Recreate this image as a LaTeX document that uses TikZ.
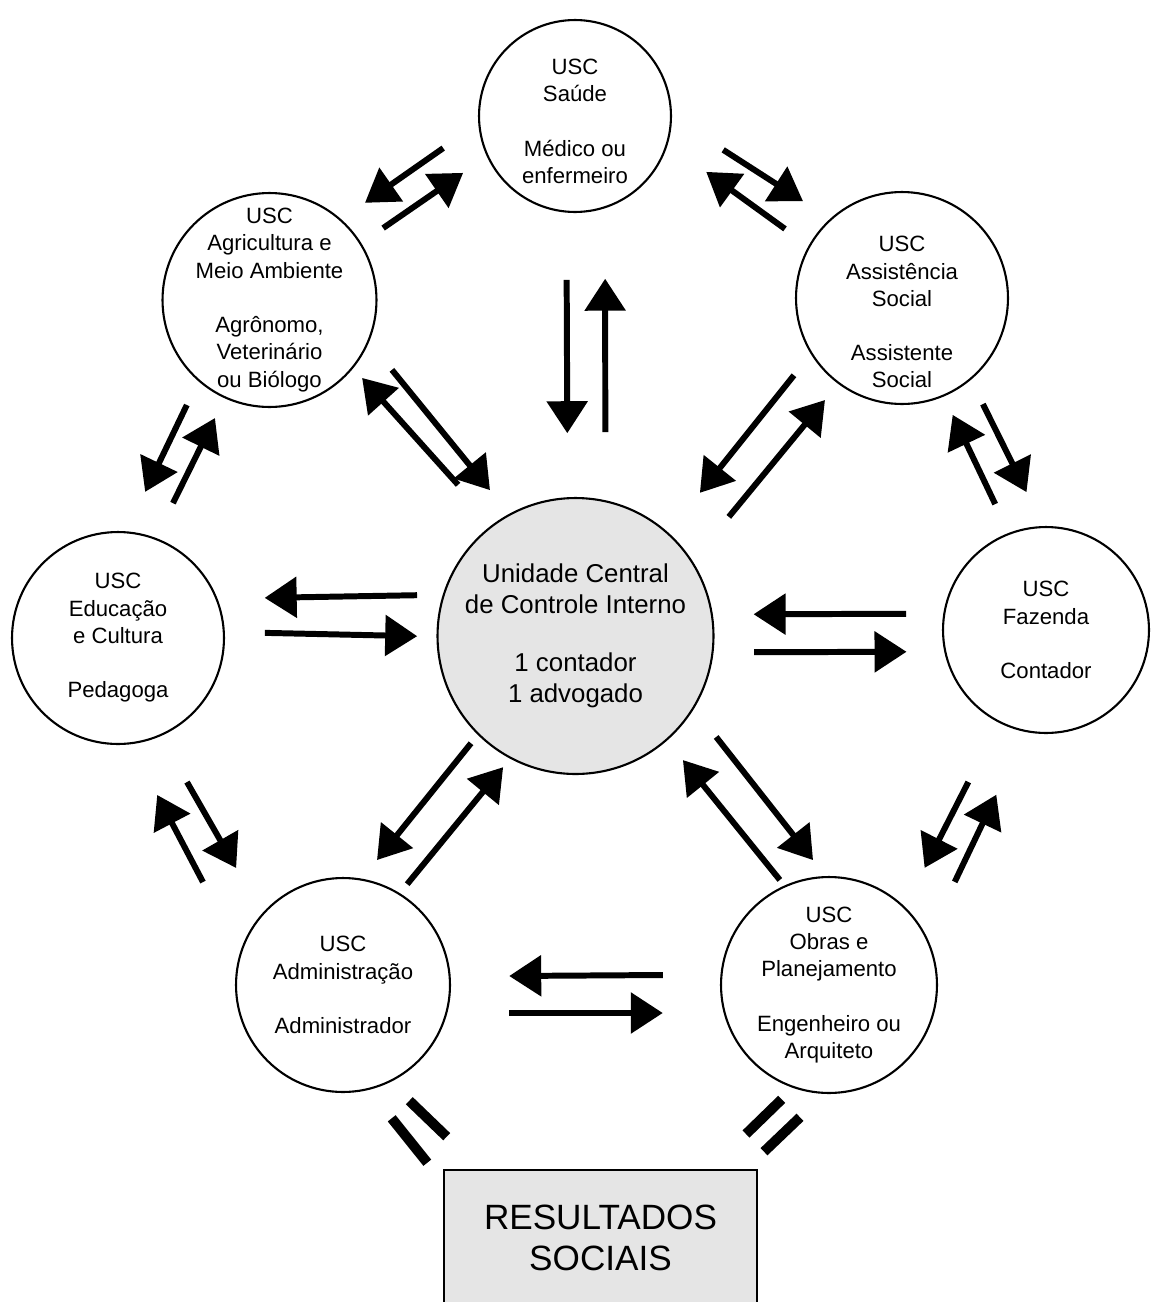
\documentclass[tikz,border=0pt]{standalone}
\usepackage{fontspec}
\setmainfont{Liberation Sans}
\usetikzlibrary{arrows.meta,calc}
\begin{document}
\begin{tikzpicture}[x=0.02cm,y=-0.02cm,
	usc/.style={draw,circle,line width=1.2pt,inner sep=-1cm,align=center,font=\fontsize{12.6}{15.5}\selectfont},
	flow/.style={-{Triangle[length=0.64cm,width=0.8cm]},line width=3.4pt},
	bar/.style={line width=5.7pt}]
	\clip (0,0) rectangle (1150,1302);
	% unidades setoriais
	\node [usc,minimum size=3.84cm] (sau) at (575,116) {\rule{0pt}{15pt}USC\\Saúde\\[15.5pt]Médico ou\\enfermeiro};
	\node [usc,minimum size=4.28cm] (agr) at (269.5,300) {USC\\Agricultura e\\Meio Ambiente\\[15.5pt]Agrônomo,\\Veterinário\\ou Biólogo};
	\node [usc,minimum size=4.24cm] (ass) at (902,298) {\rule{0pt}{25pt}USC\\Assistência\\Social\\[15.5pt]Assistente\\Social};
	\node [usc,minimum size=4.24cm] (edu) at (118,638) {USC\\Educação\\e Cultura\\[15.5pt]Pedagoga};
	\node [usc,minimum size=4.12cm] (faz) at (1046,630) {USC\\Fazenda\\[15.5pt]Contador};
	\node [usc,minimum size=4.28cm] (adm) at (343,985) {USC\\Administração\\[15.5pt]Administrador};
	\node [usc,minimum size=4.32cm] (obr) at (829,985) {USC\\Obras e\\Planejamento\\[15.5pt]Engenheiro ou\\Arquiteto};
	\node [usc,minimum size=5.52cm,fill=gray!20,font=\fontsize{14.7}{17.6}\selectfont] (cen) at (575.5,636) {Unidade Central\\de Controle Interno\\[15.3pt]1 contador\\1 advogado};
	\node [draw,line width=1.4pt,fill=gray!20,minimum width=6.26cm,minimum height=2.72cm,align=center,font=\fontsize{20}{23}\selectfont] (res) at (600.5,1238) {RESULTADOS\\SOCIAIS};
	% fluxos
	\draw [flow] ($(sau)!.363!(agr)!.81cm!-90:(agr)$) -- ($(sau)!.630!(agr)!.68cm!-90:(agr)$);
	\draw [flow] ($(sau)!.623!(agr)!.06cm!-90:(agr)$) -- ($(sau)!.351!(agr)!.18cm!-90:(agr)$);
	\draw [flow] ($(sau)!.390!(ass)!.85cm!90:(ass)$) -- ($(sau)!.643!(ass)!.73cm!90:(ass)$);
	\draw [flow] ($(sau)!.637!(ass)!.07cm!90:(ass)$) -- ($(sau)!.379!(ass)!.30cm!90:(ass)$);
	\draw [flow] ($(sau)!.315!(cen)!.17cm!-90:(cen)$) -- ($(sau)!.610!(cen)!.16cm!-90:(cen)$);
	\draw [flow] ($(sau)!.608!(cen)!.60cm!90:(cen)$) -- ($(sau)!.313!(cen)!.60cm!90:(cen)$);
	\draw [flow] ($(agr)!.295!(cen)!.87cm!90:(cen)$) -- ($(agr)!.636!(cen)!.70cm!90:(cen)$);
	\draw [flow] ($(agr)!.580!(cen)!.30cm!90:(cen)$) -- ($(agr)!.264!(cen)!.32cm!90:(cen)$);
	\draw [flow] ($(ass)!.278!(cen)!.48cm!-90:(cen)$) -- ($(ass)!.597!(cen)!.20cm!-90:(cen)$);
	\draw [flow] ($(ass)!.591!(cen)!.55cm!90:(cen)$) -- ($(ass)!.270!(cen)!.31cm!90:(cen)$);
	\draw [flow] ($(agr)!.350!(edu)!.65cm!-90:(edu)$) -- ($(agr)!.610!(edu)!.70cm!-90:(edu)$);
	\draw [flow] ($(agr)!.607!(edu)!.10cm!-90:(edu)$) -- ($(agr)!.351!(edu)!.03cm!-90:(edu)$);
	\draw [flow] ($(ass)!.358!(faz)!.64cm!90:(faz)$) -- ($(ass)!.629!(faz)!.74cm!90:(faz)$);
	\draw [flow] ($(ass)!.625!(faz)!.07cm!90:(faz)$) -- ($(ass)!.352!(faz)$);
	\draw [flow] ($(edu)!.654!(cen)!.83cm!90:(cen)$) -- ($(edu)!.321!(cen)!.79cm!90:(cen)$);
	\draw [flow] ($(edu)!.321!(cen)!.09cm!90:(cen)$) -- ($(edu)!.654!(cen)!.01cm!90:(cen)$);
	\draw [flow] ($(cen)!.703!(faz)!.36cm!90:(faz)$) -- ($(cen)!.379!(faz)!.39cm!90:(faz)$);
	\draw [flow] ($(cen)!.379!(faz)!.37cm!-90:(faz)$) -- ($(cen)!.703!(faz)!.40cm!-90:(faz)$);
	\draw [flow] ($(edu)!.383!(adm)!.41cm!-90:(adm)$) -- ($(edu)!.622!(adm)!.52cm!-90:(adm)$);
	\draw [flow] ($(edu)!.607!(adm)!1.23cm!-90:(adm)$) -- ($(edu)!.370!(adm)!1.05cm!-90:(adm)$);
	\draw [flow] ($(faz)!.409!(obr)!.26cm!90:(obr)$) -- ($(faz)!.640!(obr)!.41cm!90:(obr)$);
	\draw [flow] ($(faz)!.631!(obr)!1.07cm!90:(obr)$) -- ($(faz)!.400!(obr)!.87cm!90:(obr)$);
	\draw [flow] ($(cen)!.351!(adm)!.55cm!-90:(adm)$) -- ($(cen)!.707!(adm)!.82cm!-90:(adm)$);
	\draw [flow] ($(cen)!.715!(adm)!.05cm!-90:(adm)$) -- ($(cen)!.356!(adm)!.25cm!90:(adm)$);
	\draw [flow] ($(cen)!.381!(obr)!1.09cm!90:(obr)$) -- ($(cen)!.744!(obr)!1.21cm!90:(obr)$);
	\draw [flow] ($(cen)!.736!(obr)!.44cm!90:(obr)$) -- ($(cen)!.379!(obr)!.28cm!90:(obr)$);
	\draw [flow] ($(adm)!.658!(obr)!.20cm!90:(obr)$) -- ($(adm)!.342!(obr)!.18cm!90:(obr)$);
	\draw [flow] ($(adm)!.342!(obr)!.56cm!-90:(obr)$) -- ($(adm)!.658!(obr)!.56cm!-90:(obr)$);
	% resultados
	\draw [bar] (391.7,1118.3) -- (427.3,1162.7);
	\draw [bar] (409.3,1100.7) -- (446.7,1136.7);
	\draw [bar] (746,1134) -- (781.7,1099.3);
	\draw [bar] (764,1151.7) -- (800,1117.3);
\end{tikzpicture}
\end{document}
